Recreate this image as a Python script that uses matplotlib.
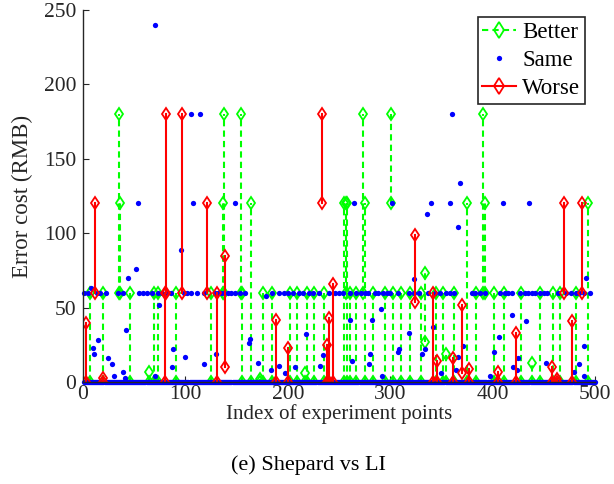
import numpy as np
import matplotlib
matplotlib.use('Agg')
import matplotlib.pyplot as plt
from matplotlib.lines import Line2D

plt.rcParams['font.family'] = ['Liberation Serif', 'DejaVu Serif']

# "Better": vertical segments (index, low cost, high cost)
better_x = [7, 20, 35, 36, 46, 64, 69, 73, 91, 125, 137, 138, 154, 155, 164, 173, 176, 185,
            202, 209, 217, 219, 226, 235, 255, 257, 258, 261, 267, 273, 275, 283, 295, 301,
            303, 311, 319, 330, 334, 345, 352, 354, 362, 375, 384, 391, 393, 401, 411, 428,
            438, 446, 459, 466, 481, 493]
better_lo = [0, 0, 60, 60, 0, 0, 0, 0, 0, 0, 60, 60, 60, 0, 0, 0, 0, 0,
             0, 0, 0, 0, 0, 0, 0, 60, 0, 0, 0, 60, 0, 0, 0, 120,
             0, 0, 0, 0, 27, 0, 0, 0, 0, 0, 0, 60, 60, 0, 0, 0,
             0, 0, 0, 0, 0, 0]
better_hi = [60, 60, 180, 120, 60, 7, 60, 60, 60, 60, 120, 180, 180, 60, 120, 2, 60, 60,
             60, 60, 6, 60, 60, 60, 120, 120, 120, 60, 60, 180, 120, 60, 60, 180,
             60, 60, 60, 60, 73, 60, 60, 19, 60, 120, 60, 180, 120, 60, 60, 60,
             13, 60, 60, 60, 60, 120]

# "Worse": vertical segments (index, low cost, high cost)
worse_x = [3, 12, 20, 80, 81, 97, 121, 131, 139, 188, 200, 233, 238, 240, 244, 324, 342,
           346, 361, 370, 377, 405, 423, 458, 463, 470, 478, 487]
worse_lo = [0, 60, 0, 0, 60, 60, 60, 0, 10, 0, 0, 120, 0, 0, 0, 54, 0,
            0, 0, 6, 0, 0, 0, 0, 0, 60, 0, 60]
worse_hi = [40, 120, 3, 60, 180, 180, 120, 60, 85, 42, 23, 180, 25, 43, 66, 99, 60,
            14, 16, 52, 9, 7, 33, 10, 2, 120, 41, 120]

# "Same": every index sits on the zero line, plus these at 60 and scattered values
same_zero_first, same_zero_last = 1, 500
same_60_x = [1, 5, 14, 17, 22, 34, 39, 55, 59, 62, 67, 73, 77, 82, 86, 99, 102, 105, 111,
             118, 129, 132, 135, 138, 142, 145, 148, 153, 158, 185, 191, 196, 200, 205,
             211, 215, 221, 225, 230, 240, 246, 250, 254, 261, 267, 271, 275, 278, 285,
             288, 293, 297, 300, 308, 318, 323, 328, 337, 344, 349, 354, 358, 362, 380,
             383, 388, 393, 407, 412, 415, 419, 427, 432, 435, 438, 441, 446, 450, 453,
             464, 472, 477, 481, 484, 489, 495]
same_x = [70, 105, 114, 360, 54, 107, 148, 265, 302, 340, 358, 410, 436, 336, 366, 368,
          8, 52, 44, 96, 74, 42, 15, 10, 11, 24, 28, 30, 39, 41, 70, 88, 87, 100, 118,
          130, 162, 163, 171, 184, 191, 197, 207, 218, 231, 234, 261, 263, 280, 279, 282,
          291, 292, 308, 309, 318, 323, 331, 334, 342, 350, 366, 371, 364, 419, 433, 406,
          401, 425, 420, 424, 452, 484, 489, 479, 489, 397, 179, 491]
same_y = [240, 180, 180, 180, 120, 120, 120, 120, 120, 120, 120, 120, 120, 113, 104, 134,
          63, 76, 70, 89, 52, 35, 28, 23, 19, 16, 12, 4, 7, 3, 4, 22, 10, 17, 12,
          19, 26, 29, 13, 8, 11, 6, 10, 32, 11, 18, 42, 14, 19, 12, 42,
          49, 4, 20, 22, 33, 69, 19, 22, 37, 6, 17, 24, 8, 45, 41, 30,
          20, 16, 10, 8, 13, 12, 24, 7, 4, 4, 58, 70]

green = (0, 1, 0)
blue = (0, 0, 1)
red = (1, 0, 0)
ink = '#262626'

fig = plt.figure(figsize=(6.14, 4.84), dpi=100)
ax = fig.add_axes([0.1352, 0.2107, 0.8339, 0.7686])

for x, lo, hi in zip(better_x, better_lo, better_hi):
    ax.plot([x, x], [lo, hi], color=green, linestyle='--', dashes=(3, 2), linewidth=1.5,
            marker='d', markersize=6, markerfacecolor='none', markeredgewidth=1.3)

zero_x = np.arange(same_zero_first, same_zero_last + 1)
ax.plot(zero_x, np.zeros(len(zero_x)), 'o', color=blue, markersize=3.8, markeredgewidth=0,
        clip_on=False)
ax.plot(same_60_x, [60] * len(same_60_x), 'o', color=blue, markersize=3.8,
        markeredgewidth=0, clip_on=False)
ax.plot(same_x, same_y, 'o', color=blue, markersize=3.8, markeredgewidth=0, clip_on=False)

for x, lo, hi in zip(worse_x, worse_lo, worse_hi):
    ax.plot([x, x], [lo, hi], color=red, linestyle='-', linewidth=1.5,
            marker='d', markersize=6, markerfacecolor='none', markeredgewidth=1.3)

ax.set_xlim(0, 500)
ax.set_ylim(0, 250)
ax.set_xticks(range(0, 501, 100))
ax.set_yticks(range(0, 251, 50))
ax.tick_params(direction='in', length=4, labelsize=15.5, colors=ink)
ax.tick_params(axis='x', pad=2)
ax.tick_params(axis='y', pad=5)
for side in ['top', 'right']:
    ax.spines[side].set_visible(False)
for side in ['left', 'bottom']:
    ax.spines[side].set_color(ink)
    ax.spines[side].set_linewidth(1.0)

ax.set_xlabel('Index of experiment points', fontsize=15, color=ink, va='center')
ax.xaxis.set_label_coords(0.5, -0.085)
ax.set_ylabel('Error cost (RMB)', fontsize=16.5, color=ink, va='center')
ax.yaxis.set_label_coords(-0.119, 0.5)
fig.text(0.503, 0.039, '(e) Shepard vs LI', ha='center', va='center', fontsize=16)

handles = [
    Line2D([], [], color=green, linestyle='--', dashes=(3, 2), linewidth=1.5, marker='d',
           markersize=8, markerfacecolor='none', markeredgewidth=1.3, label='Better'),
    Line2D([], [], color=blue, linestyle='none', marker='o', markersize=3.8,
           markeredgewidth=0, label='Same'),
    Line2D([], [], color=red, linestyle='-', linewidth=1.5, marker='d', markersize=8,
           markerfacecolor='none', markeredgewidth=1.3, label='Worse'),
]
leg = ax.legend(handles=handles, loc='upper right', bbox_to_anchor=(0.98, 0.98),
                fontsize=16.5, handlelength=1.5, handletextpad=0.25, borderpad=0.2,
                labelspacing=0.3, borderaxespad=0.0, fancybox=False, framealpha=1)
leg.get_frame().set_edgecolor(ink)
leg.get_frame().set_linewidth(1.2)

fig.savefig('out.png', dpi=100)
